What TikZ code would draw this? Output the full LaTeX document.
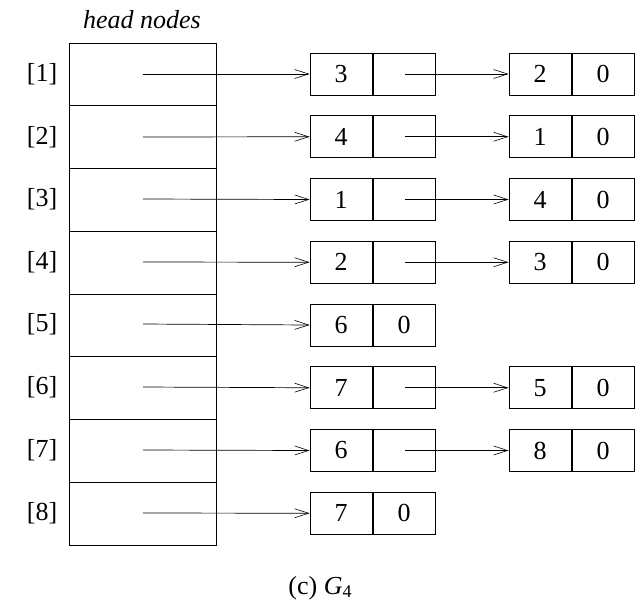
\documentclass[tikz,border=0pt]{standalone}
\usepackage{fontspec}
\setmainfont{Liberation Serif}
\usetikzlibrary{arrows.meta}
\begin{document}
\begin{tikzpicture}[x=1pt,y=-1pt,
  every node/.style={font=\fontsize{26}{30}\selectfont},
  cellbox/.style={draw,line width=0.8pt,minimum width=62pt,minimum height=42pt,inner sep=0pt,anchor=center},
  headbox/.style={draw,line width=0.8pt,minimum width=147pt,minimum height=62.75pt,inner sep=0pt},
  link/.style={line width=0.7pt,-{Straight Barb[length=14pt,width=9pt,line width=0.6pt]}},
  lbl/.style={inner sep=0pt}]
\useasboundingbox (0,0) rectangle (642,614);
\node[lbl,font=\fontsize{26}{30}\selectfont\itshape] (title) at (142,20) {head nodes};
\foreach \i/\y in {1/74,2/137,3/199,4/262,5/324,6/387,7/450,8/513}{
  \node[lbl] (L\i) at (42,\y) {[\i]};
  \node[headbox] (H\i) at (142.5,{43+62.75*(\i-0.5)}) {};
  \coordinate (S\i) at (143,\y);
}
% first nodes
\foreach \i/\v/\w in {1/3/,2/4/,3/1/,4/2/,5/6/0,6/7/,7/6/,8/7/0}{
  \node[cellbox] (A\i) at (341,{74+62.75*(\i-1)}) {\v};
  \node[cellbox] (B\i) at (404,{74+62.75*(\i-1)}) {\w};
  \coordinate (P\i) at (405,{74+62.75*(\i-1)});
  \draw[link] (S\i) -- (A\i.west);
}
% second nodes
\foreach \i/\v in {1/2,2/1,3/4,4/3,6/5,7/8}{
  \node[cellbox] (C\i) at (540,{74+62.75*(\i-1)}) {\v};
  \node[cellbox] (D\i) at (603,{74+62.75*(\i-1)}) {0};
  \draw[link] (P\i) -- (C\i.west);
}
\node[lbl] (cap) at (320,588) {(c) \textit{G}\raisebox{-0.3ex}{\fontsize{18}{20}\selectfont 4}};
\end{tikzpicture}
\end{document}
